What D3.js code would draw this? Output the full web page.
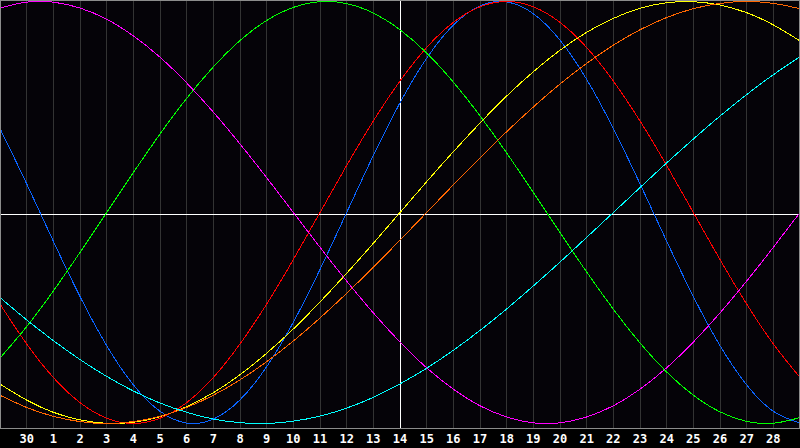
<!DOCTYPE html>
<html>
<head>
<meta charset="utf-8">
<script src="https://cdn.jsdelivr.net/npm/d3@7/dist/d3.min.js"></script>
<style>
  html, body { margin: 0; padding: 0; background: #000; }
  svg { display: block; }
</style>
</head>
<body>
<svg id="chart" width="800" height="448"></svg>
<script>
// Day labels at grid positions 1..29 (position 0 and 30 are unlabeled edges)
const dayLabels = ["30","1","2","3","4","5","6","7","8","9","10","11","12","13","14",
  "15","16","17","18","19","20","21","22","23","24","25","26","27","28"];
const todayIndex = 15; // label "14"

// Cycle names, colours and daily values (positions 0..30)
const cycleNames  = ["Physical 23", "Emotional 28", "Intellectual 33", "Intuitive 38", "Aesthetic 43", "Awareness 48", "Spiritual 53"];
const cycleColors = ["#0a64ff", "#ff0000", "#00ff00", "#ff00ff", "#ffff00", "#ff6600", "#00ffff"];

const physical = [0.398,0.136,-0.136,-0.398,-0.631,-0.817,-0.942,-0.998,-0.979,-0.888,-0.731,-0.520,-0.270,0,
  0.270,0.520,0.731,0.888,0.979,0.998,0.942,0.817,0.631,0.398,0.136,-0.136,-0.398,-0.631,-0.817,-0.942,-0.998];
const emotional = [-0.434,-0.623,-0.782,-0.901,-0.975,-1,-0.975,-0.901,-0.782,-0.623,-0.434,-0.223,0,
  0.223,0.434,0.623,0.782,0.901,0.975,1,0.975,0.901,0.782,0.623,0.434,0.223,0,-0.223,-0.434,-0.623,-0.782];
const intellectual = [-0.690,-0.541,-0.372,-0.189,0,0.189,0.372,0.541,0.690,0.815,0.910,0.972,0.999,0.990,
  0.945,0.866,0.756,0.618,0.458,0.282,0.095,-0.095,-0.282,-0.458,-0.618,-0.756,-0.866,-0.945,-0.990,-0.999,-0.972];
const intuitive = [0.969,0.997,0.997,0.969,0.916,0.837,0.736,0.614,0.476,0.325,0.165,0,-0.165,-0.325,
  -0.476,-0.614,-0.736,-0.837,-0.916,-0.969,-0.997,-0.997,-0.969,-0.916,-0.837,-0.736,-0.614,-0.476,-0.325,-0.165,0];
const aesthetic = [-0.813,-0.889,-0.947,-0.983,-0.999,-0.994,-0.968,-0.920,-0.854,-0.769,-0.667,-0.552,-0.424,-0.288,
  -0.146,0,0.146,0.288,0.424,0.552,0.667,0.769,0.854,0.920,0.968,0.994,0.999,0.983,0.947,0.889,0.813];
const awareness = [-0.866,-0.924,-0.966,-0.991,-1,-0.991,-0.966,-0.924,-0.866,-0.793,-0.707,-0.609,-0.5,-0.383,
  -0.259,-0.131,0,0.131,0.259,0.383,0.5,0.609,0.707,0.793,0.866,0.924,0.966,0.991,1,0.991,0.966];
const spiritual = [-0.403,-0.509,-0.607,-0.697,-0.777,-0.846,-0.903,-0.947,-0.979,-0.996,-1.000,-0.989,-0.965,-0.927,
  -0.876,-0.812,-0.738,-0.653,-0.559,-0.457,-0.348,-0.235,-0.118,0,0.118,0.235,0.348,0.457,0.559,0.653,0.738];

const seriesValues = [physical, emotional, intellectual, intuitive, aesthetic, awareness, spiritual];

// ---------- drawing ----------
const W = 800, plotH = 428;
const svg = d3.select("#chart");

const x = d3.scaleLinear().domain([0, 30]).range([0, W]);
const y = d3.scaleLinear().domain([-1, 1]).range([423.5, 1.5]);

svg.append("rect").attr("x", 0).attr("y", 0).attr("width", W).attr("height", 448).attr("fill", "#000");
svg.append("rect").attr("x", 0).attr("y", 0).attr("width", W).attr("height", plotH).attr("fill", "#050308");

// vertical day grid lines
const gridIdx = d3.range(1, 30);
svg.append("g").selectAll("line").data(gridIdx).join("line")
  .attr("x1", d => Math.floor(x(d)) + 0.5).attr("x2", d => Math.floor(x(d)) + 0.5)
  .attr("y1", 0).attr("y2", plotH)
  .attr("stroke", d => d === todayIndex ? "#ffffff" : "#333333")
  .attr("stroke-width", 1)
  .attr("shape-rendering", "crispEdges");

// horizontal zero line
svg.append("line")
  .attr("x1", 0).attr("x2", W).attr("y1", 214.5).attr("y2", 214.5)
  .attr("stroke", "#ffffff").attr("stroke-width", 1).attr("shape-rendering", "crispEdges");

// cycle curves
const line = d3.line()
  .x((d, i) => x(i))
  .y(d => y(d))
  .curve(d3.curveNatural);

svg.append("g").selectAll("path").data(seriesValues).join("path")
  .attr("d", d => line(d))
  .attr("fill", "none")
  .attr("stroke", (d, i) => cycleColors[i])
  .attr("stroke-width", 1)
  .attr("shape-rendering", "crispEdges")
  .append("title").text((d, i) => cycleNames[i]);

// border
svg.append("rect")
  .attr("x", 0.5).attr("y", 0.5).attr("width", W - 1).attr("height", plotH)
  .attr("fill", "none").attr("stroke", "#8c8c8c").attr("stroke-width", 1)
  .attr("shape-rendering", "crispEdges");

// day labels
svg.append("g").selectAll("text").data(dayLabels).join("text")
  .attr("x", (d, i) => x(i + 1))
  .attr("y", 443)
  .attr("text-anchor", "middle")
  .attr("fill", "#ffffff")
  .attr("font-family", "'DejaVu Sans Mono', monospace")
  .attr("font-weight", "bold")
  .attr("font-size", 12)
  .text(d => d);
</script>
</body>
</html>
